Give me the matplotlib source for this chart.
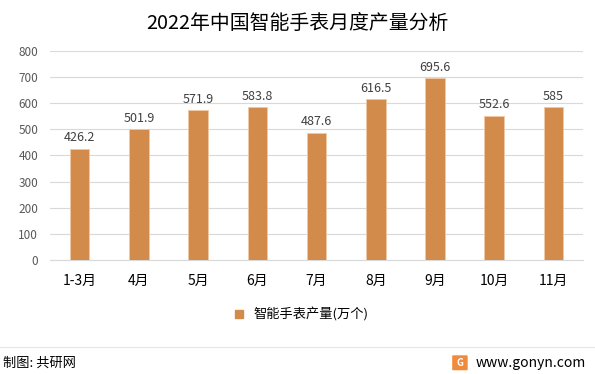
import matplotlib.pyplot as plt
from matplotlib.patches import FancyBboxPatch
from matplotlib.lines import Line2D

plt.rcParams['font.family'] = ['Noto Sans CJK SC', 'DejaVu Sans']

months = ["1-3月", "4月", "5月", "6月", "7月", "8月", "9月", "10月", "11月"]
output = [426.2, 501.9, 571.9, 583.8, 487.6, 616.5, 695.6, 552.6, 585]
value_labels = ["426.2", "501.9", "571.9", "583.8", "487.6", "616.5", "695.6", "552.6", "585"]
y_ticks = [0, 100, 200, 300, 400, 500, 600, 700, 800]

bar_color = "#D38B4C"
text_color = "#404040"

fig = plt.figure(figsize=(5.95, 3.74), dpi=100)
ax = fig.add_axes([0.084, 0.305, 0.896, 0.559])

x = range(len(months))
ax.bar(x, output, width=0.33, color=bar_color, edgecolor="#F0C9A5",
       linewidth=0.6, zorder=3, label="智能手表产量(万个)")
for xi, v, lab in zip(x, output, value_labels):
    ax.text(xi, v + 16, lab, ha="center", va="bottom", fontsize=9, color=text_color)

ax.set_xlim(-0.5, len(months) - 0.5)
ax.set_ylim(0, 800)
ax.set_yticks(y_ticks)
ax.set_xticks(list(x))
ax.set_xticklabels(months, fontsize=10, color="black")
ax.tick_params(axis="y", labelsize=8.5, colors="#595959", length=0, pad=8.5)
ax.tick_params(axis="x", length=0, pad=10)
ax.yaxis.grid(True, color="#D9D9D9", linewidth=0.8, zorder=0)
for s in ["top", "right", "left"]:
    ax.spines[s].set_visible(False)
ax.spines["bottom"].set_color("#D9D9D9")

fig.text(0.5, 0.937, "2022年中国智能手表月度产量分析", ha="center", va="center",
         fontsize=14.3, color="black")

handle = Line2D([], [], marker="s", linestyle="none", markersize=6,
                markerfacecolor=bar_color, markeredgecolor=bar_color)
fig.legend([handle], ["智能手表产量(万个)"], loc="center", bbox_to_anchor=(0.5, 0.158),
           frameon=False, fontsize=9.5, handletextpad=0.1, labelcolor="black")

# footer
fig.add_artist(Line2D([0.0, 1.0], [0.072, 0.072], color="#E6E6E6", linewidth=0.8))
fig.text(0.005, 0.03, "制图: 共研网", ha="left", va="center", fontsize=9.5, color="black")
fig.text(0.985, 0.03, "www.gonyn.com", ha="right", va="center", fontsize=10, color="black")
logo = FancyBboxPatch((0.762, 0.012), 0.022, 0.036, boxstyle="round,pad=0.002",
                      transform=fig.transFigure, facecolor="#F08A3C", edgecolor="none")
fig.add_artist(logo)
fig.text(0.773, 0.03, "G", ha="center", va="center", fontsize=7, color="white",
         fontweight="bold")

fig.savefig("out.png", dpi=100)
